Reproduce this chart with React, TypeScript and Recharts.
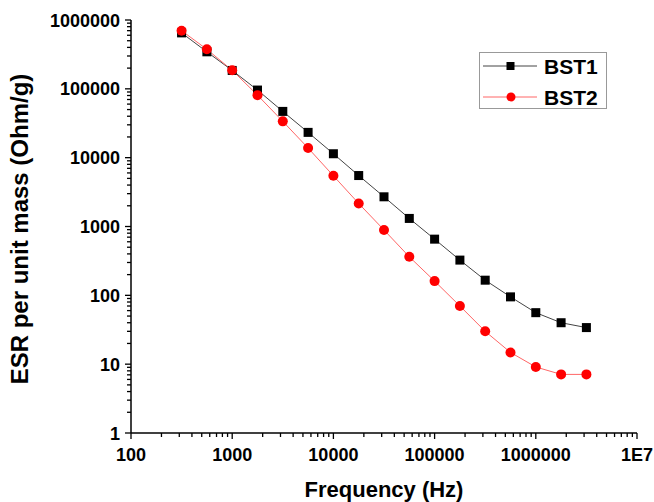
import { LineChart, Line, XAxis, YAxis } from "recharts";

// frequencies in Hz (quarter-decade steps)
const freqs = [
  316, 562, 1000, 1778, 3162, 5623, 10000, 17783, 31623, 56234, 100000,
  177828, 316228, 562341, 1000000, 1778279, 3162278,
];

// ESR per unit mass (Ohm/g)
const bst1 = [
  650000, 345000, 185000, 96000, 47000, 23300, 11400, 5500, 2700, 1310, 655,
  325, 166, 95, 56, 40, 34,
];
const bst2 = [
  700000, 375000, 186000, 81000, 33700, 13800, 5450, 2160, 890, 363, 161, 70,
  30, 14.8, 9.1, 7.1, 7.1,
];

const xMajor = [100, 1000, 10000, 100000, 1000000, 10000000];
const xLabels = ["100", "1000", "10000", "100000", "1000000", "1E7"];
const yMajor = [1, 10, 100, 1000, 10000, 100000, 1000000];
const yLabels = ["1", "10", "100", "1000", "10000", "100000", "1000000"];

const minorOf = (majors: number[]) =>
  majors.slice(0, -1).flatMap((d) => [2, 3, 4, 5, 6, 7, 8, 9].map((m) => m * d));

const xTicks = [...xMajor, ...minorOf(xMajor)].sort((a, b) => a - b);
const yTicks = [...yMajor, ...minorOf(yMajor)].sort((a, b) => a - b);

const data = freqs.map((f, i) => ({ freq: f, bst1: bst1[i], bst2: bst2[i] }));

const FONT = "'Liberation Sans', Arial, sans-serif";

const XTick = (props: any) => {
  const { x, y, payload } = props;
  const idx = xMajor.indexOf(payload.value);
  const major = idx >= 0;
  return (
    <g>
      <line x1={x} x2={x} y1={y} y2={y + (major ? 6 : 4)} stroke="#000" strokeWidth={1.3} />
      {major && (
        <text x={x} y={y + 28} textAnchor="middle" fontSize={18} fontWeight="bold" fontFamily={FONT} fill="#000">
          {xLabels[idx]}
        </text>
      )}
    </g>
  );
};

const YTick = (props: any) => {
  const { x, y, payload } = props;
  const idx = yMajor.indexOf(payload.value);
  const major = idx >= 0;
  return (
    <g>
      <line x1={x} x2={x - (major ? 6 : 4)} y1={y} y2={y} stroke="#000" strokeWidth={1.3} />
      {major && (
        <text x={x - 11} y={y + 6.5} textAnchor="end" fontSize={18} fontWeight="bold" fontFamily={FONT} fill="#000">
          {yLabels[idx]}
        </text>
      )}
    </g>
  );
};

const SquareDot = (props: any) => {
  const { cx, cy, index } = props;
  return <rect key={`s${index}`} x={cx - 4.5} y={cy - 4.5} width={9} height={9} fill="#000" />;
};

const CircleDot = (props: any) => {
  const { cx, cy, index } = props;
  return <circle key={`c${index}`} cx={cx} cy={cy} r={5} fill="#ff0000" />;
};

const LegendBox = () => (
  <svg width={128} height={57} style={{ position: "absolute", left: 479, top: 52 }}>
    <rect x={0.5} y={0.5} width={127} height={56} fill="#fff" stroke="#999" />
    <line x1={4} x2={58} y1={14} y2={14} stroke="#444" strokeWidth={1} />
    <rect x={27.5} y={10} width={8} height={8} fill="#000" />
    <text x={65} y={21.5} fontSize={21} fontWeight="bold" fontFamily={FONT} fill="#000">BST1</text>
    <line x1={4} x2={58} y1={45} y2={45} stroke="#ff6666" strokeWidth={1} />
    <circle cx={32} cy={45} r={4.5} fill="#ff0000" />
    <text x={65} y={52.5} fontSize={21} fontWeight="bold" fontFamily={FONT} fill="#000">BST2</text>
  </svg>
);

export default function App() {
  return (
    <div style={{ position: "absolute", left: 0, top: 0, width: 654, height: 502, background: "#fff" }}>
      <LineChart width={654} height={502} data={data} margin={{ top: 20, right: 17, bottom: 0, left: 0 }}>
        <XAxis
          dataKey="freq"
          type="number"
          scale="log"
          domain={[100, 10000000]}
          ticks={xTicks}
          interval={0}
          allowDataOverflow
          height={69}
          tickSize={0}
          tickMargin={0}
          tickLine={false}
          tick={<XTick />}
          axisLine={{ stroke: "#000", strokeWidth: 1.5 }}
          label={{
            content: ({ viewBox }: any) => (
              <text
                x={viewBox.x + viewBox.width / 2}
                y={497}
                textAnchor="middle"
                fontSize={22}
                fontWeight="bold"
                fontFamily={FONT}
                fill="#000"
              >
                Frequency (Hz)
              </text>
            ),
          }}
        />
        <YAxis
          type="number"
          scale="log"
          domain={[1, 1000000]}
          ticks={yTicks}
          interval={0}
          allowDataOverflow
          width={131}
          tickSize={0}
          tickMargin={0}
          tickLine={false}
          tick={<YTick />}
          axisLine={{ stroke: "#000", strokeWidth: 1.5 }}
          label={{
            content: () => (
              <text
                x={28}
                y={229}
                transform="rotate(-90 28 229)"
                textAnchor="middle"
                fontSize={24}
                fontWeight="bold"
                fontFamily={FONT}
                fill="#000"
              >
                ESR per unit mass (Ohm/g)
              </text>
            ),
          }}
        />
        <Line
          dataKey="bst1"
          name="BST1"
          stroke="#444"
          strokeWidth={1}
          dot={<SquareDot />}
          isAnimationActive={false}
        />
        <Line
          dataKey="bst2"
          name="BST2"
          stroke="#ff6666"
          strokeWidth={1}
          dot={<CircleDot />}
          isAnimationActive={false}
        />
      </LineChart>
      <LegendBox />
    </div>
  );
}
